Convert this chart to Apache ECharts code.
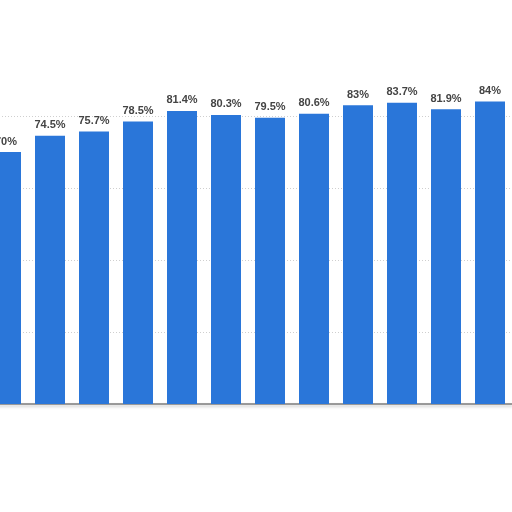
<!DOCTYPE html>
<html>
<head>
<meta charset="utf-8">
<script src="https://cdn.jsdelivr.net/npm/echarts@6/dist/echarts.min.js"></script>
<style>
html,body{margin:0;padding:0;background:#fff;overflow:hidden;width:512px;height:512px;}
#chart{width:528px;height:512px;margin-left:-16px;}
</style>
</head>
<body>
<div id="chart"></div>
<script>
// 年份类别（图中未显示标签）
var categories = ['1', '2', '3', '4', '5', '6', '7', '8', '9', '10', '11', '12'];
// 百分比数值
var values = [70, 74.5, 75.7, 78.5, 81.4, 80.3, 79.5, 80.6, 83, 83.7, 81.9, 84];
var labels = ['70%', '74.5%', '75.7%', '78.5%', '81.4%', '80.3%', '79.5%', '80.6%', '83%', '83.7%', '81.9%', '84%'];

var chart = echarts.init(document.getElementById('chart'));
chart.setOption({
    animation: false,
    grid: {left: 0, right: 0, top: 44, bottom: 108, containLabel: false},
    xAxis: {
        type: 'category',
        data: categories,
        axisTick: {show: false},
        axisLabel: {show: false},
        axisLine: {lineStyle: {color: '#7a7a7a', width: 1.5, shadowColor: 'rgba(0,0,0,0.25)', shadowBlur: 3, shadowOffsetY: 2}}
    },
    yAxis: {
        type: 'value',
        min: 0,
        max: 100,
        interval: 20,
        axisLabel: {show: false},
        axisLine: {show: false},
        axisTick: {show: false},
        splitLine: {
            showMinLine: false,
            showMaxLine: false,
            lineStyle: {color: '#cfcfcf', type: [1, 2], width: 1}
        }
    },
    series: [{
        type: 'bar',
        data: values,
        barWidth: 30,
        itemStyle: {color: '#2a76d9'},
        label: {
            show: true,
            position: 'top',
            distance: 5,
            color: '#444',
            fontSize: 11,
            fontWeight: 'bold',
            fontFamily: 'Liberation Sans',
            formatter: function (p) {
                return labels[p.dataIndex];
            }
        }
    }]
});
</script>
</body>
</html>
